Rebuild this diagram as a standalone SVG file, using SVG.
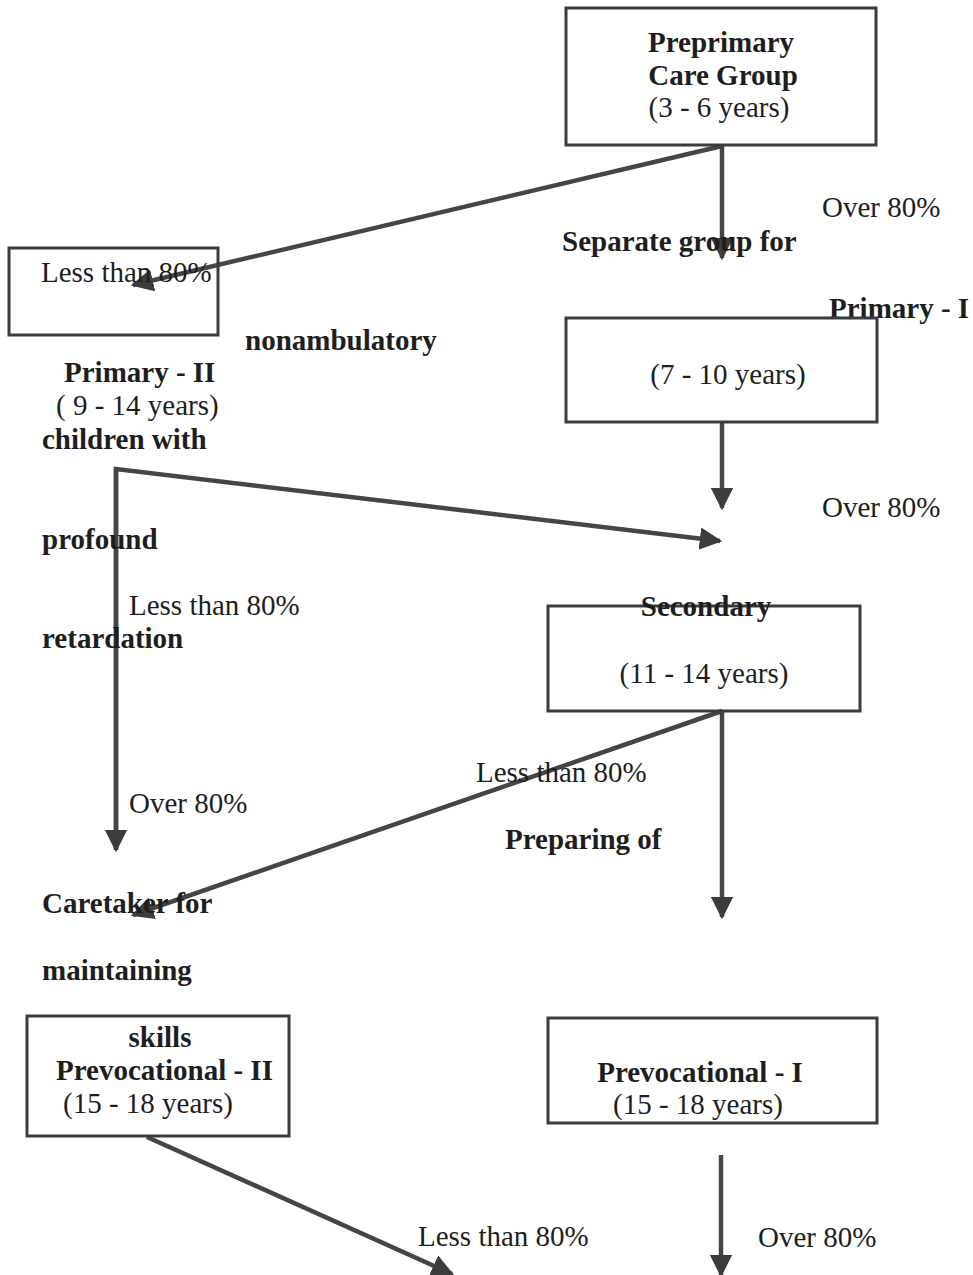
<svg xmlns="http://www.w3.org/2000/svg" width="973" height="1275" viewBox="0 0 973 1275">
  <style>
    .box { fill: none; stroke: #3c3c3c; stroke-width: 3; }
    .wire { fill: none; stroke: #454545; stroke-width: 4.5; }
    .t { font-family: "Liberation Serif", "Times New Roman", serif; font-size: 29px; fill: #1e1e1e; }
    .b { font-weight: bold; }
    .c { text-anchor: middle; }
  </style>
  <defs>
    <marker id="arrow" viewBox="0 0 10 10" refX="9" refY="5" markerWidth="5" markerHeight="5" markerUnits="strokeWidth" orient="auto">
      <path d="M0,0 L10,5 L0,10 Z" fill="#3c3c3c"/>
    </marker>
  </defs>
  <rect width="973" height="1275" fill="#ffffff"/>

  <!-- connectors -->
  <g id="connectors">
    <line class="wire" x1="722" y1="146" x2="133" y2="285" marker-end="url(#arrow)"/>
    <line class="wire" x1="722" y1="146" x2="722" y2="258" marker-end="url(#arrow)"/>
    <line class="wire" x1="722" y1="422" x2="722" y2="508" marker-end="url(#arrow)"/>
    <polyline class="wire" points="116,850 116,469 720,541" marker-end="url(#arrow)"/>
    <line class="wire" x1="116" y1="469" x2="116" y2="850" marker-end="url(#arrow)"/>
    <line class="wire" x1="722" y1="711" x2="133" y2="915" marker-end="url(#arrow)"/>
    <line class="wire" x1="722" y1="711" x2="722" y2="917" marker-end="url(#arrow)"/>
    <line class="wire" x1="147" y1="1137" x2="452" y2="1274" marker-end="url(#arrow)"/>
    <line class="wire" x1="721" y1="1155" x2="721" y2="1275" marker-end="url(#arrow)"/>
  </g>

  <!-- preprimary -->
  <g id="preprimary">
    <rect class="box" x="566" y="8" width="310" height="137"/>
    <text class="t b c" x="721" y="52">Preprimary</text>
    <text class="t b c" x="723" y="85">Care Group</text>
    <text class="t c" x="719" y="117">(3 - 6 years)</text>
  </g>

  <!-- left box -->
  <g id="less-box">
    <rect class="box" x="9" y="248" width="209" height="87"/>
    <text class="t" x="41" y="282">Less than 80%</text>
  </g>

  <g id="labels-top">
    <text class="t" x="822" y="217">Over 80%</text>
    <text class="t b" x="562" y="251">Separate group for</text>
    <text class="t b" x="829" y="318">Primary - I</text>
    <text class="t b" x="245" y="350">nonambulatory</text>
  </g>

  <!-- primary I -->
  <g id="primary-1">
    <rect class="box" x="566" y="318" width="311" height="104"/>
    <text class="t c" x="728" y="384">(7 - 10 years)</text>
  </g>

  <!-- primary II label block -->
  <g id="primary-2">
    <text class="t b" x="64" y="382">Primary - II</text>
    <text class="t" x="56" y="415">( 9 - 14 years)</text>
    <text class="t b" x="42" y="449">children with</text>
    <text class="t b" x="42" y="549">profound</text>
    <text class="t b" x="42" y="648">retardation</text>
  </g>

  <g id="labels-mid">
    <text class="t" x="822" y="517">Over 80%</text>
    <text class="t" x="129" y="615">Less than 80%</text>
    <text class="t" x="476" y="782">Less than 80%</text>
    <text class="t" x="129" y="813">Over 80%</text>
    <text class="t b" x="505" y="849">Preparing of</text>
  </g>

  <!-- secondary -->
  <g id="secondary">
    <rect class="box" x="548" y="606" width="312" height="105"/>
    <text class="t b c" x="706" y="616">Secondary</text>
    <text class="t c" x="704" y="683">(11 - 14 years)</text>
  </g>

  <!-- caretaker block -->
  <g id="caretaker">
    <text class="t b" x="42" y="913">Caretaker for</text>
    <text class="t b" x="42" y="980">maintaining</text>
  </g>

  <!-- prevocational II -->
  <g id="prevocational-2">
    <rect class="box" x="27" y="1016" width="262" height="120"/>
    <text class="t b c" x="160" y="1047">skills</text>
    <text class="t b" x="56" y="1080">Prevocational - II</text>
    <text class="t" x="63" y="1113">(15 - 18 years)</text>
  </g>

  <!-- prevocational I -->
  <g id="prevocational-1">
    <rect class="box" x="548" y="1018" width="329" height="105"/>
    <text class="t b c" x="700" y="1082">Prevocational - I</text>
    <text class="t" x="613" y="1114">(15 - 18 years)</text>
  </g>

  <g id="labels-bottom">
    <text class="t" x="418" y="1246">Less than 80%</text>
    <text class="t" x="758" y="1247">Over 80%</text>
  </g>
</svg>
